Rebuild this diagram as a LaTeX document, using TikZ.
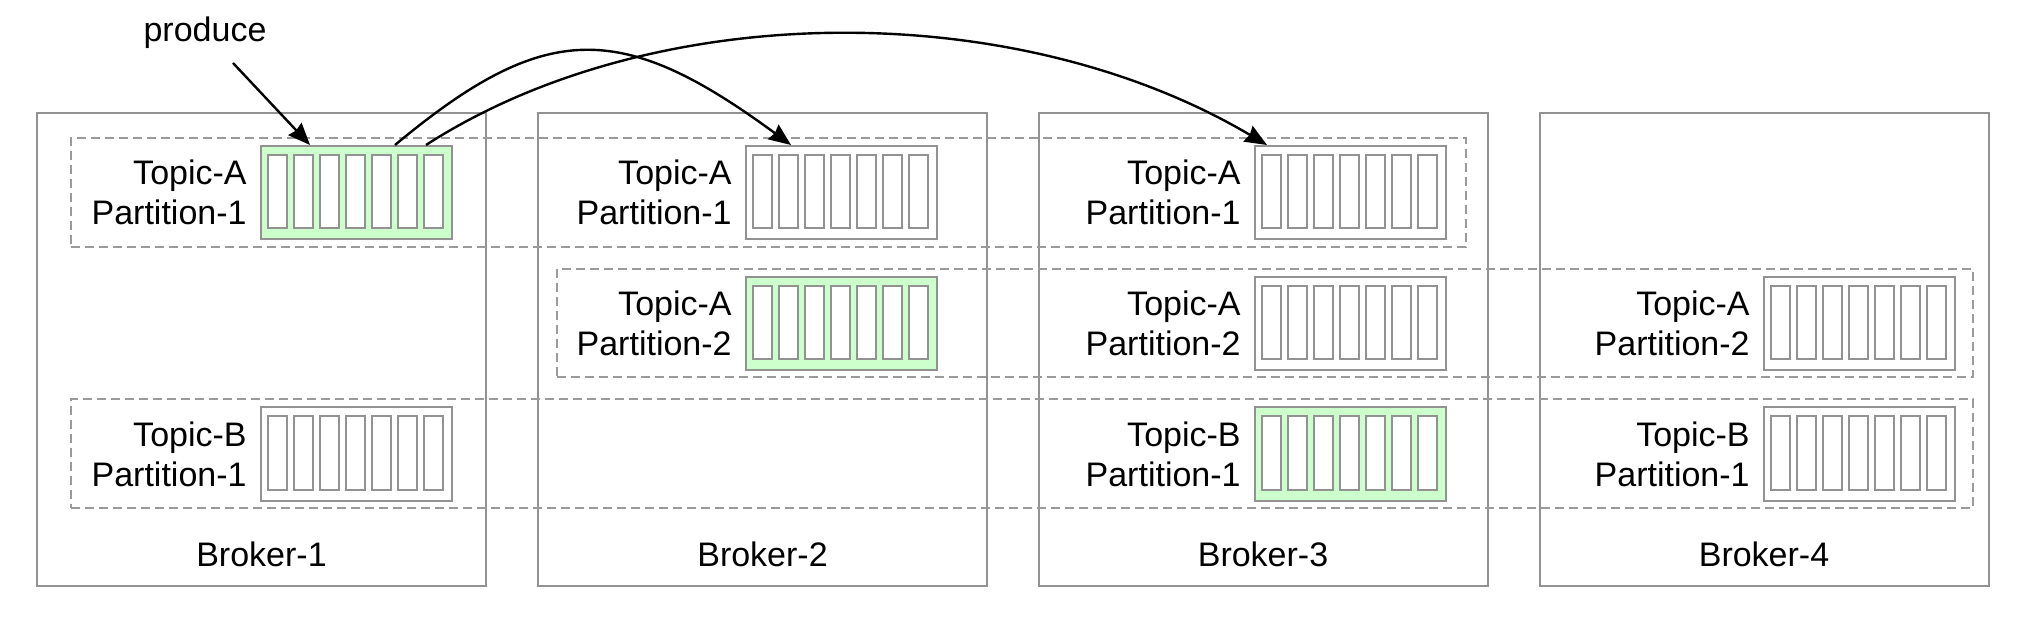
\documentclass[tikz,border=0pt]{standalone}
\usepackage{fontspec}
\setmainfont{Liberation Sans}
\usetikzlibrary{calc,arrows.meta}
\definecolor{lgray}{HTML}{929292}
\definecolor{dgray}{HTML}{9A9A9A}
\definecolor{pgreen}{HTML}{CCFFCC}
\tikzset{
  broker/.style={draw=lgray, line width=1pt, minimum width=224.5pt, minimum height=236.5pt, inner sep=0pt},
  blabel/.style={font=\fontsize{17pt}{20pt}\selectfont, inner sep=0pt},
  rowbox/.style={draw=dgray, line width=0.9pt, dash pattern=on 4.5pt off 2.5pt, inner sep=0pt},
  pbox/.style={draw=lgray, line width=1pt, minimum width=95.5pt, minimum height=46.5pt, inner sep=0pt},
  cellbox/.style={draw=lgray, line width=1pt, fill=white},
  plabel/.style={font=\fontsize{17pt}{20pt}\selectfont, align=right, inner sep=0pt},
  arr/.style={draw=black, line width=1.2pt, -{Stealth[length=11pt, width=9pt, inset=1pt]}}
}
\newcommand{\partbox}[6]{%
  \node[pbox, fill=#4] (#1) at (#2,#3) {};
  \foreach \k in {0,...,6} {
    \draw[cellbox] ($(#1.north west)+(8+26*\k,10)$) rectangle ++(19,73);
  }
  \node[plabel, anchor=east] (#1-lab) at ([xshift=-6.5pt]#1.west) {#5\\#6};
}
\begin{document}
\begin{tikzpicture}[x=0.5pt,y=-0.5pt]
\useasboundingbox[fill=white] (0,0) rectangle (2032,624);
% brokers
\node[broker] (b1) at (261.5,349.5) {};
\node[broker] (b2) at (762.5,349.5) {};
\node[broker] (b3) at (1263,349.5) {};
\node[broker] (b4) at (1764,349.5) {};
\node[blabel] (b1-lab) at (261.5,554) {Broker-1};
\node[blabel] (b2-lab) at (762.5,554) {Broker-2};
\node[blabel] (b3-lab) at (1263,554) {Broker-3};
\node[blabel] (b4-lab) at (1764,554) {Broker-4};
% dashed rows
\node[rowbox, minimum width=697.5pt, minimum height=54.5pt] (row1) at (768.5,192.5) {};
\node[rowbox, minimum width=708pt, minimum height=54pt] (row2) at (1265,323) {};
\node[rowbox, minimum width=951pt, minimum height=54.5pt] (row3) at (1022,453.5) {};
% partitions
\partbox{p11}{356.5}{192.5}{pgreen}{Topic-A}{Partition-1}
\partbox{p12}{841.5}{192.5}{white}{Topic-A}{Partition-1}
\partbox{p13}{1350.5}{192.5}{white}{Topic-A}{Partition-1}
\partbox{p22}{841.5}{323.5}{pgreen}{Topic-A}{Partition-2}
\partbox{p23}{1350.5}{323.5}{white}{Topic-A}{Partition-2}
\partbox{p24}{1859.5}{323.5}{white}{Topic-A}{Partition-2}
\partbox{p31}{356.5}{454}{white}{Topic-B}{Partition-1}
\partbox{p33}{1350.5}{454}{pgreen}{Topic-B}{Partition-1}
\partbox{p34}{1859.5}{454}{white}{Topic-B}{Partition-1}
% produce
\node[blabel, anchor=base] (produce) at (205,42) {produce};
\coordinate (prodstart) at (233,63);
\draw[arr] (prodstart) -- ([xshift=25pt]p11.north west);
% replication arcs
\draw[arr] ([xshift=67.5pt]p11.north west) .. controls +(150,-125) and +(-170,-125) .. ([xshift=23pt]p12.north west);
\draw[arr] ([xshift=83pt]p11.north west) .. controls +(230,-148) and +(-250,-148) .. ([xshift=6.5pt]p13.north west);
\end{tikzpicture}
\end{document}
